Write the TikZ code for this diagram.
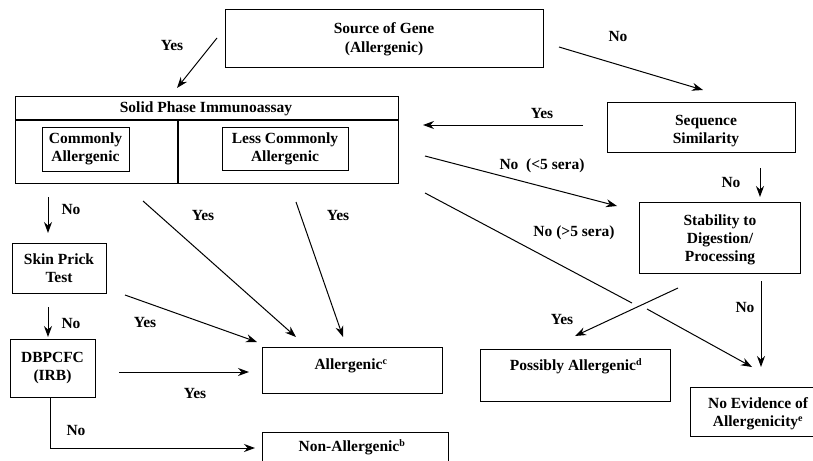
\documentclass[tikz,border=0pt]{standalone}
\usepackage{fontspec}
\setmainfont{Liberation Serif}
\usetikzlibrary{arrows.meta}
\newcommand{\supmark}[1]{\textsuperscript{\fontsize{10}{10}\selectfont #1}}
\begin{document}
\begin{tikzpicture}[x=1pt,y=-1pt,
  every node/.style={font=\bfseries\fontsize{15.5}{18}\selectfont},
  boxx/.style={draw,line width=1pt},
  lbl/.style={inner sep=0pt},
  arr/.style={line width=1pt,-{Stealth[length=11pt,width=8pt]}},
  ln/.style={line width=1pt}]
\useasboundingbox (0,0) rectangle (813,460);
\clip (0,0) rectangle (813,460);
% boxes
\draw[boxx] (225,10) rectangle (543,67);
\node[lbl] (src1) at (384,28) {Source of Gene};
\node[lbl] (src2) at (384,49) {(Allergenic)};

\draw[boxx] (15,96) rectangle (398,183);
\draw[line width=1.5pt] (15,120) -- (398,120);
\draw[line width=1.5pt] (178,120) -- (178,183);
\node[lbl] (spi) at (206,109) {Solid Phase Immunoassay};
\node[boxx,minimum width=87pt,minimum height=44pt,align=center,inner sep=0pt] (ca) at (85.5,149) {Commonly\\Allergenic};
\node[boxx,minimum width=126pt,minimum height=43pt,align=center,inner sep=0pt] (lca) at (285,148.5) {Less Commonly\\Allergenic};

\draw[boxx] (607,102) rectangle (795,152);
\node[lbl,align=center] (seq) at (706,131) {Sequence\\Similarity};
\draw[boxx] (639,202) rectangle (800,273);
\node[lbl,align=center] (stab) at (720,240) {Stability to\\Digestion/\\Processing};

\node[boxx,minimum width=94pt,minimum height=50pt,align=center,inner sep=0pt] (spt) at (59,268) {Skin Prick\\Test};
\node[boxx,minimum width=85pt,minimum height=58pt,align=center,inner sep=0pt] (dbp) at (52.5,368) {DBPCFC\\(IRB)};

\draw[boxx] (262,347) rectangle (442,393);
\node[lbl] (alg) at (351,366) {Allergenic\supmark{c}};
\draw[boxx] (480,349) rectangle (670,401);
\node[lbl] (pos) at (576,366) {Possibly Allergenic\supmark{d}};
\draw[boxx] (690,387) rectangle (830,436);
\node[lbl] (noe1) at (758,403) {No Evidence of};
\node[lbl] (noe2) at (758,423) {Allergenicity\supmark{e}};
\draw[boxx] (262,432) rectangle (448,470);
\node[lbl] (non) at (352,447) {Non-Allergenic\supmark{b}};

% connectors
\coordinate (a1s) at (217,38); \coordinate (a1e) at (177,88);
\draw[arr] (a1s) -- (a1e);
\node[lbl] at (172,46) {Yes};
\coordinate (a2s) at (559,47); \coordinate (a2e) at (703,90);
\draw[arr] (a2s) -- (a2e);
\node[lbl] at (618,37) {No};
\coordinate (a3s) at (583,125); \coordinate (a3e) at (423,125);
\draw[arr] (a3s) -- (a3e);
\node[lbl] at (542,113) {Yes};
\coordinate (a4s) at (425,156); \coordinate (a4e) at (617,206);
\draw[arr] (a4s) -- (a4e);
\node[lbl] at (542,166) {No\ \ (<5 sera)};
\coordinate (a5s) at (760,168); \coordinate (a5e) at (760,197);
\draw[arr] (a5s) -- (a5e);
\node[lbl] at (731,182) {No};
\coordinate (a6s) at (425,193); \coordinate (a6m) at (632,303);
\coordinate (a6n) at (647,309); \coordinate (a6e) at (752,367);
\draw[ln] (a6s) -- (a6m);
\draw[arr] (a6n) -- (a6e);
\node[lbl] at (574,233) {No (>5 sera)};
\coordinate (a7s) at (678,288); \coordinate (a7e) at (575,336);
\draw[arr] (a7s) -- (a7e);
\node[lbl] at (562,319) {Yes};
\coordinate (a8s) at (761,281); \coordinate (a8e) at (761,367);
\draw[arr] (a8s) -- (a8e);
\node[lbl] at (745,307) {No};

\coordinate (b1s) at (48,197); \coordinate (b1e) at (48,233);
\draw[arr] (b1s) -- (b1e);
\node[lbl] at (71,209) {No};
\coordinate (b2s) at (48,307); \coordinate (b2e) at (48,337);
\draw[arr] (b2s) -- (b2e);
\node[lbl] at (71,323) {No};
\coordinate (b3s) at (50,397); \coordinate (b3c) at (50,448); \coordinate (b3e) at (255,448);
\draw[arr] (b3s) -- (b3c) -- (b3e);
\node[lbl] at (76,430) {No};
\coordinate (b4s) at (119,372); \coordinate (b4e) at (249,372);
\draw[arr] (b4s) -- (b4e);
\node[lbl] at (195,393) {Yes};
\coordinate (b5s) at (125,295); \coordinate (b5e) at (257,342);
\draw[arr] (b5s) -- (b5e);
\node[lbl] at (145,322) {Yes};
\coordinate (b6s) at (143,201); \coordinate (b6e) at (296,337);
\draw[arr] (b6s) -- (b6e);
\node[lbl] at (203,215) {Yes};
\coordinate (b7s) at (296,202); \coordinate (b7e) at (343,337);
\draw[arr] (b7s) -- (b7e);
\node[lbl] at (338,215) {Yes};
\end{tikzpicture}
\end{document}
